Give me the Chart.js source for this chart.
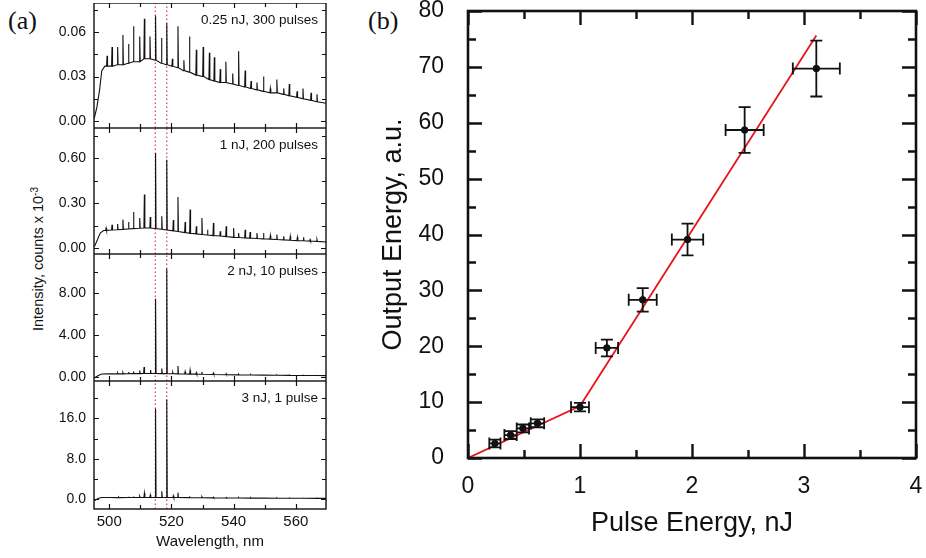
<!DOCTYPE html>
<html>
<head>
<meta charset="utf-8">
<script src="https://cdn.jsdelivr.net/npm/chart.js@4.4.1/dist/chart.umd.min.js"></script>
<style>
  body { margin: 0; background: #fff; }
  #wrap { position: relative; width: 926px; height: 558px; overflow: hidden; font-family: "Liberation Sans", Arial, sans-serif; }
  canvas { position: absolute; }
  .tag { position: absolute; font-family: "Liberation Serif", "Times New Roman", serif; font-size: 26px; line-height: 1; color: #111; }
  #ytitleA { position: absolute; left: 38px; top: 259px; transform: translate(-50%, -50%) rotate(-90deg); white-space: nowrap; font-size: 14.5px; color: #111; }
  #ytitleA sup { font-size: 10px; vertical-align: 5px; line-height: 0; }
</style>
</head>
<body>
<div id="wrap">
  <div class="tag" style="left:8px; top:8px;">(a)</div>
  <div class="tag" style="left:368px; top:8px;">(b)</div>
  <div id="ytitleA">Intensity, counts x 10<sup>-3</sup></div>
  <canvas id="s1" width="330" height="125" style="left:0; top:3px;"></canvas>
  <canvas id="s2" width="330" height="126" style="left:0; top:128px;"></canvas>
  <canvas id="s3" width="330" height="127" style="left:0; top:254px;"></canvas>
  <canvas id="s4" width="330" height="177" style="left:0; top:381px;"></canvas>
  <canvas id="b" width="566" height="558" style="left:360px; top:0;"></canvas>
</div>
<script>
// ---- panel (a): spectra ----
// wavelength ticks
var wlMajor = [500, 520, 540, 560];
var wlMinor = [510, 530, 550];
// red dotted marker lines, nm
var markers = [514.8, 518.5];

// rising edge [nm, value], peaks [nm, top, base], tail [nm, value]
var edge1 = [[495.2, 0.002], [496.0, 0.009], [496.9, 0.021], [497.6, 0.034], [498.6, 0.037]];
var peaks1 = [
  [499.3, 0.044, 0.037], [500.9, 0.050, 0.037], [502.7, 0.050, 0.038], [504.4, 0.058, 0.038],
  [506.2, 0.052, 0.039], [507.8, 0.064, 0.040], [509.8, 0.057, 0.040], [511.3, 0.069, 0.042],
  [513.1, 0.057, 0.042], [514.9, 0.071, 0.041], [516.8, 0.056, 0.039], [518.5, 0.066, 0.038],
  [520.3, 0.042, 0.037], [522.1, 0.064, 0.036], [524.0, 0.041, 0.034], [525.8, 0.057, 0.033],
  [528.0, 0.048, 0.031], [530.2, 0.050, 0.030], [532.2, 0.046, 0.028], [533.8, 0.043, 0.027],
  [535.7, 0.035, 0.026], [537.5, 0.040, 0.026], [539.7, 0.032, 0.025], [541.6, 0.047, 0.024],
  [543.7, 0.034, 0.023], [545.6, 0.027, 0.022], [547.5, 0.026, 0.021], [549.6, 0.030, 0.020],
  [551.8, 0.022, 0.019], [553.9, 0.028, 0.019], [556.1, 0.022, 0.018], [557.9, 0.025, 0.017],
  [560.4, 0.020, 0.016], [562.3, 0.022, 0.015], [564.9, 0.019, 0.014], [566.8, 0.018, 0.013]
];
var tail1 = [[569.7, 0.012]];

var edge2 = [[495.2, 0.008], [496.2, 0.055], [497.1, 0.10], [498.2, 0.117]];
var peaks2 = [
  [499.0, 0.133, 0.118], [500.9, 0.155, 0.120], [502.7, 0.160, 0.122], [504.4, 0.189, 0.124],
  [506.2, 0.173, 0.127], [507.8, 0.240, 0.129], [509.8, 0.200, 0.132], [511.3, 0.356, 0.133],
  [513.2, 0.207, 0.133], [514.9, 0.634, 0.130], [516.9, 0.211, 0.125], [518.5, 0.589, 0.120],
  [520.6, 0.187, 0.114], [522.1, 0.340, 0.110], [524.4, 0.173, 0.103], [526.0, 0.256, 0.098],
  [528.0, 0.145, 0.094], [529.8, 0.200, 0.090], [531.6, 0.122, 0.087], [533.5, 0.167, 0.083],
  [535.7, 0.111, 0.080], [537.6, 0.145, 0.076], [540.0, 0.133, 0.071], [541.6, 0.100, 0.070],
  [543.7, 0.122, 0.067], [545.3, 0.107, 0.066], [547.5, 0.100, 0.063], [549.6, 0.100, 0.061],
  [551.8, 0.084, 0.059], [553.9, 0.089, 0.057], [556.1, 0.078, 0.054], [558.2, 0.078, 0.052],
  [560.5, 0.071, 0.049], [562.5, 0.071, 0.048], [564.6, 0.056, 0.046], [566.8, 0.056, 0.044]
];
var tail2 = [[569.7, 0.040]];

var edge3 = [[495.2, -0.1], [496.5, 0.15], [497.6, 0.28], [500.0, 0.30]];
var peaks3 = [
  [502.7, 0.40, 0.30], [504.4, 0.42, 0.30], [506.2, 0.48, 0.31], [507.8, 0.55, 0.32],
  [509.8, 0.62, 0.32], [511.2, 0.95, 0.33], [513.3, 0.67, 0.33], [514.9, 7.45, 0.33],
  [516.9, 0.80, 0.32], [518.5, 10.3, 0.32], [520.4, 0.45, 0.31], [522.1, 1.05, 0.30],
  [524.4, 0.51, 0.29], [526.0, 0.64, 0.28], [528.0, 0.42, 0.27], [529.8, 0.48, 0.26],
  [533.5, 0.38, 0.24], [537.6, 0.32, 0.22], [541.6, 0.26, 0.20], [545.5, 0.24, 0.19],
  [549.6, 0.22, 0.18], [553.9, 0.20, 0.17], [558.0, 0.18, 0.16], [562.4, 0.17, 0.15],
  [566.8, 0.15, 0.14]
];
var tail3 = [[569.7, 0.13]];

var edge4 = [[495.2, -0.3], [496.5, 0.2], [497.6, 0.35], [500.0, 0.35]];
var peaks4 = [
  [503.0, 0.45, 0.33], [506.2, 0.50, 0.34], [507.8, 0.55, 0.34], [509.8, 0.60, 0.35],
  [511.3, 1.20, 0.35], [513.2, 0.85, 0.35], [514.9, 17.9, 0.35], [516.9, 1.60, 0.35],
  [518.5, 19.7, 0.35], [520.6, 0.70, 0.34], [522.1, 1.30, 0.34], [525.8, 0.60, 0.32],
  [529.8, 0.50, 0.30], [533.5, 0.42, 0.28], [537.6, 0.38, 0.26], [541.6, 0.35, 0.24],
  [545.5, 0.32, 0.23], [549.6, 0.30, 0.22], [553.9, 0.28, 0.21], [558.0, 0.25, 0.20],
  [562.4, 0.24, 0.19], [566.8, 0.22, 0.18]
];
var tail4 = [[569.7, 0.17]];

// y ticks per subplot
var y1Major = [0, 0.03, 0.06], y1Minor = [0.015, 0.045, 0.075];
var y2Major = [0, 0.30, 0.60], y2Minor = [0.15, 0.45, 0.75];
var y3Major = [0, 4, 8], y3Minor = [2, 6, 10];
var y4Major = [0, 8, 16], y4Minor = [4, 12, 20];

// ---- panel (b): output vs pulse energy ----
var pulseE = [0.24, 0.38, 0.49, 0.62, 1.00, 1.24, 1.56, 1.96, 2.47, 3.11];
var outE   = [2.6, 4.1, 5.3, 6.2, 9.1, 19.7, 28.3, 39.1, 58.7, 69.7];
var xErr   = [0.05, 0.055, 0.055, 0.06, 0.08, 0.10, 0.125, 0.14, 0.17, 0.21];
var yErr   = [0.7, 0.7, 0.7, 0.7, 0.75, 1.5, 2.1, 2.85, 4.1, 5.0];
var fitX = [0, 1.0, 3.11];
var fitY = [0, 9.3, 75.6];
var bxMajor = [0, 1, 2, 3, 4], bxMinor = [0.5, 1.5, 2.5, 3.5];
var byMajor = [0, 10, 20, 30, 40, 50, 60, 70, 80], byMinor = [5, 15, 25, 35, 45, 55, 65, 75];

var ink = '#111';

// inward ticks on all four sides + box + corner label
var framePlugin = {
  id: 'frame',
  afterDraw(chart, args, o) {
    var ctx = chart.ctx, a = chart.chartArea, x = chart.scales.x, y = chart.scales.y;
    ctx.save();
    ctx.strokeStyle = ink;
    ctx.lineWidth = o.tickWidth;
    ctx.beginPath();
    function tx(vals, len) {
      vals.forEach(function (v) {
        var p = Math.round(x.getPixelForValue(v)) + 0.5;
        ctx.moveTo(p, a.bottom); ctx.lineTo(p, a.bottom - len);
        ctx.moveTo(p, a.top); ctx.lineTo(p, a.top + len);
      });
    }
    function ty(vals, len) {
      vals.forEach(function (v) {
        var p = Math.round(y.getPixelForValue(v)) + 0.5;
        ctx.moveTo(a.left, p); ctx.lineTo(a.left + len, p);
        ctx.moveTo(a.right, p); ctx.lineTo(a.right - len, p);
      });
    }
    tx(o.xMajor, o.major); tx(o.xMinor, o.minor);
    ty(o.yMajor, o.major); ty(o.yMinor, o.minor);
    ctx.stroke();
    ctx.lineWidth = o.border;
    ctx.strokeRect(a.left, a.top, a.right - a.left, a.bottom - a.top);
    if (o.label) {
      ctx.fillStyle = ink;
      ctx.font = '13.5px "Liberation Sans", Arial, sans-serif';
      ctx.textAlign = 'right';
      ctx.textBaseline = 'middle';
      ctx.fillText(o.label, a.right - 8, a.top + 17);
    }
    ctx.restore();
  }
};

// error bars through the scales
var errPlugin = {
  id: 'errbars',
  afterDatasetsDraw(chart) {
    var ctx = chart.ctx, x = chart.scales.x, y = chart.scales.y;
    ctx.save();
    ctx.strokeStyle = ink;
    ctx.lineWidth = 1.8;
    ctx.beginPath();
    pulseE.forEach(function (e, i) {
      var px = x.getPixelForValue(e), py = y.getPixelForValue(outE[i]);
      var x0 = x.getPixelForValue(e - xErr[i]), x1 = x.getPixelForValue(e + xErr[i]);
      var y0 = y.getPixelForValue(outE[i] - yErr[i]), y1 = y.getPixelForValue(outE[i] + yErr[i]);
      ctx.moveTo(x0, py); ctx.lineTo(x1, py);
      ctx.moveTo(x0, py - 6); ctx.lineTo(x0, py + 6);
      ctx.moveTo(x1, py - 6); ctx.lineTo(x1, py + 6);
      ctx.moveTo(px, y0); ctx.lineTo(px, y1);
      ctx.moveTo(px - 6, y0); ctx.lineTo(px + 6, y0);
      ctx.moveTo(px - 6, y1); ctx.lineTo(px + 6, y1);
    });
    ctx.stroke();
    ctx.restore();
  }
};

function spectrum(edge, peaks, tail) {
  var pts = edge.map(function (p) { return { x: p[0], y: p[1] }; });
  peaks.forEach(function (p) {
    pts.push({ x: p[0] - 0.15, y: p[2] }, { x: p[0], y: p[1] }, { x: p[0] + 0.15, y: p[2] });
  });
  tail.forEach(function (p) { pts.push({ x: p[0], y: p[1] }); });
  return pts;
}

function fixTicks(vals) {
  return function (s) { s.ticks = vals.map(function (v) { return { value: v }; }); };
}

// fixed axis size, and no extra room for half-labels at the ends
function fitTo(dim, size) {
  return function (s) {
    s[dim] = size;
    s.paddingTop = 0; s.paddingBottom = 0; s.paddingLeft = 0; s.paddingRight = 0;
  };
}

function subplot(id, pts, yMin, yMax, yMajor, yMinor, dec, label, bottom) {
  var sets = [{
    data: pts, borderColor: ink, borderWidth: 1.1, pointRadius: 0, tension: 0, order: 1
  }];
  markers.forEach(function (m) {
    sets.push({
      data: [{ x: m, y: yMin }, { x: m, y: yMax }], borderColor: '#e23b3b', borderWidth: 1.2,
      borderDash: [1.5, 2.5], pointRadius: 0, order: 2
    });
  });
  new Chart(document.getElementById(id), {
    type: 'line',
    data: { datasets: sets },
    options: {
      responsive: false, animation: false,
      layout: { padding: { left: 0, right: 4, top: 0, bottom: 0 } },
      plugins: {
        legend: { display: false }, tooltip: { enabled: false },
        frame: { xMajor: wlMajor, xMinor: wlMinor, yMajor: yMajor, yMinor: yMinor,
                 major: 5, minor: 4, tickWidth: 1.2, border: 1.4, label: label }
      },
      scales: {
        x: {
          type: 'linear', min: 495.1, max: 569.7,
          afterBuildTicks: fixTicks(wlMajor),
          grid: { display: false, drawTicks: false }, border: { display: false },
          ticks: { display: bottom, color: ink, padding: 4, maxRotation: 0, autoSkip: false,
                   font: { family: '"Liberation Sans", Arial, sans-serif', size: 15 } },
          title: { display: bottom, text: 'Wavelength, nm', color: ink, padding: { top: 0, bottom: 7 },
                   font: { family: '"Liberation Sans", Arial, sans-serif', size: 15 } },
          afterFit: fitTo('height', bottom ? 49 : 0)
        },
        y: {
          type: 'linear', min: yMin, max: yMax,
          afterBuildTicks: fixTicks(yMajor),
          grid: { display: false, drawTicks: false }, border: { display: false },
          ticks: { color: ink, padding: 8, callback: function (v) { return v.toFixed(dec); },
                   font: { family: '"Liberation Sans", Arial, sans-serif', size: 14 } },
          afterFit: fitTo('width', 94)
        }
      }
    },
    plugins: [framePlugin]
  });
}

subplot('s1', spectrum(edge1, peaks1, tail1), -0.0047, 0.0796, y1Major, y1Minor, 2, '0.25 nJ, 300 pulses', false);
subplot('s2', spectrum(edge2, peaks2, tail2), -0.04, 0.80, y2Major, y2Minor, 2, '1 nJ, 200 pulses', false);
subplot('s3', spectrum(edge3, peaks3, tail3), -0.38, 11.71, y3Major, y3Minor, 2, '2 nJ, 10 pulses', false);
subplot('s4', spectrum(edge4, peaks4, tail4), -1.92, 23.37, y4Major, y4Minor, 1, '3 nJ, 1 pulse', true);

// panel (b)
var bFont = '"Liberation Sans", Arial, sans-serif';
new Chart(document.getElementById('b'), {
  type: 'scatter',
  data: {
    datasets: [
      { type: 'line', data: fitX.map(function (v, i) { return { x: v, y: fitY[i] }; }),
        borderColor: '#e8161b', borderWidth: 1.8, pointRadius: 0, tension: 0, order: 2 },
      { data: pulseE.map(function (v, i) { return { x: v, y: outE[i] }; }),
        backgroundColor: ink, borderColor: ink, pointRadius: 3.3, order: 1 }
    ]
  },
  options: {
    responsive: false, animation: false,
    layout: { padding: { left: 0, right: 10, top: 11, bottom: 0 } },
    plugins: {
      legend: { display: false }, tooltip: { enabled: false },
      frame: { xMajor: bxMajor, xMinor: bxMinor, yMajor: byMajor, yMinor: byMinor,
               major: 14, minor: 8, tickWidth: 2.4, border: 2.6 }
    },
    scales: {
      x: {
        type: 'linear', min: 0, max: 4,
        afterBuildTicks: fixTicks(bxMajor),
        grid: { display: false, drawTicks: false }, border: { display: false },
        ticks: { color: ink, padding: 15, maxRotation: 0, autoSkip: false, font: { family: bFont, size: 23 } },
        title: { display: true, text: 'Pulse Energy, nJ', color: ink, padding: { top: 0, bottom: 18 },
                 font: { family: bFont, size: 27 } },
        afterFit: fitTo('height', 100)
      },
      y: {
        type: 'linear', min: 0, max: 80,
        afterBuildTicks: fixTicks(byMajor),
        grid: { display: false, drawTicks: false }, border: { display: false },
        ticks: { color: ink, padding: 24, font: { family: bFont, size: 23 } },
        title: { display: true, text: 'Output Energy, a.u.', color: ink, padding: { top: 17, bottom: 0 },
                 font: { family: bFont, size: 27 } },
        afterFit: fitTo('width', 108)
      }
    }
  },
  plugins: [framePlugin, errPlugin]
});
</script>
</body>
</html>
